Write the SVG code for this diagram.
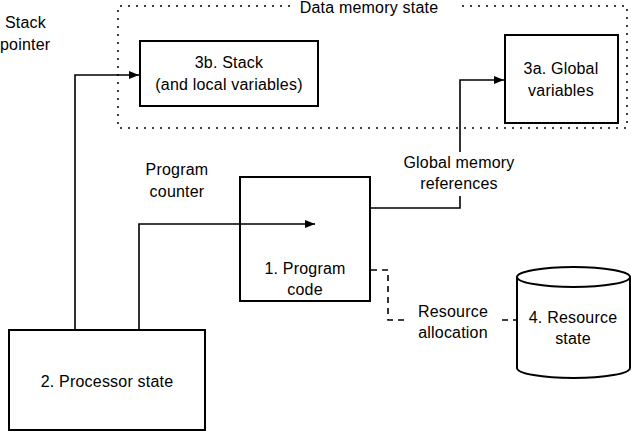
<svg xmlns="http://www.w3.org/2000/svg" width="631" height="432" viewBox="0 0 631 432">
<style>
text{font-family:"Liberation Sans",Arial,sans-serif;font-size:16px;letter-spacing:0.2px;fill:#000}
.c{text-anchor:middle}
.box{fill:none;stroke:#000;stroke-width:2}
.ln{fill:none;stroke:#000;stroke-width:1.6}
.dash{fill:none;stroke:#000;stroke-width:1.6;stroke-dasharray:6,5}
.dot{fill:none;stroke:#000;stroke-width:1.5;stroke-dasharray:2,6}
</style>
<defs>
<marker id="ah" viewBox="0 0 10 10" refX="10" refY="5" markerWidth="10" markerHeight="10" markerUnits="userSpaceOnUse" orient="auto">
<path d="M0,1 L10,5 L0,9 z" fill="#000"/>
</marker>
</defs>
<g id="data-memory-state">
<path class="dot" d="M290,6 L118,6 L118,128 L627,128 L627,6 L457,6"/>
<text class="c" x="369" y="13">Data memory state</text>
</g>
<g id="connectors">
<path class="ln" d="M75,330 L75,75 L139,75" marker-end="url(#ah)"/>
<path class="ln" d="M139,330 L139,224 L315,224" marker-end="url(#ah)"/>
<path class="ln" d="M370,208 L460,208 L460,196"/>
<path class="ln" d="M460,152 L460,80 L504,80" marker-end="url(#ah)"/>
<path class="dash" d="M371,270 L388,270 L388,320 L408,320"/>
<path class="dash" d="M502,320 L517,320"/>
<text x="5" y="28">Stack</text>
<text x="0" y="50">pointer</text>
<text class="c" x="177" y="175">Program</text>
<text class="c" x="177" y="197">counter</text>
<text class="c" x="459" y="168">Global memory</text>
<text class="c" x="459" y="189">references</text>
<text class="c" x="453" y="317">Resource</text>
<text class="c" x="453" y="338">allocation</text>
</g>
<g id="n3b">
<rect class="box" x="140" y="41" width="178" height="65"/>
<text class="c" x="229" y="68">3b. Stack</text>
<text class="c" x="229" y="90">(and local variables)</text>
</g>
<g id="n3a">
<rect class="box" x="505" y="35" width="113" height="88"/>
<text class="c" x="561" y="74">3a. Global</text>
<text class="c" x="561" y="96">variables</text>
</g>
<g id="n1">
<rect class="box" x="240" y="177" width="130" height="124"/>
<text class="c" x="305" y="274">1. Program</text>
<text class="c" x="305" y="295">code</text>
</g>
<g id="n2">
<rect class="box" x="9" y="330" width="196" height="100"/>
<text class="c" x="107" y="387">2. Processor state</text>
</g>
<g id="n4">
<path class="box" d="M517,277 L517,368 A56.5,10 0 0 0 630,368 L630,277 A56.5,10 0 0 0 517,277 Z"/>
<path class="box" d="M517,277 A56.5,10 0 0 0 630,277"/>
<text class="c" x="573" y="323">4. Resource</text>
<text class="c" x="573" y="344">state</text>
</g>
</svg>
